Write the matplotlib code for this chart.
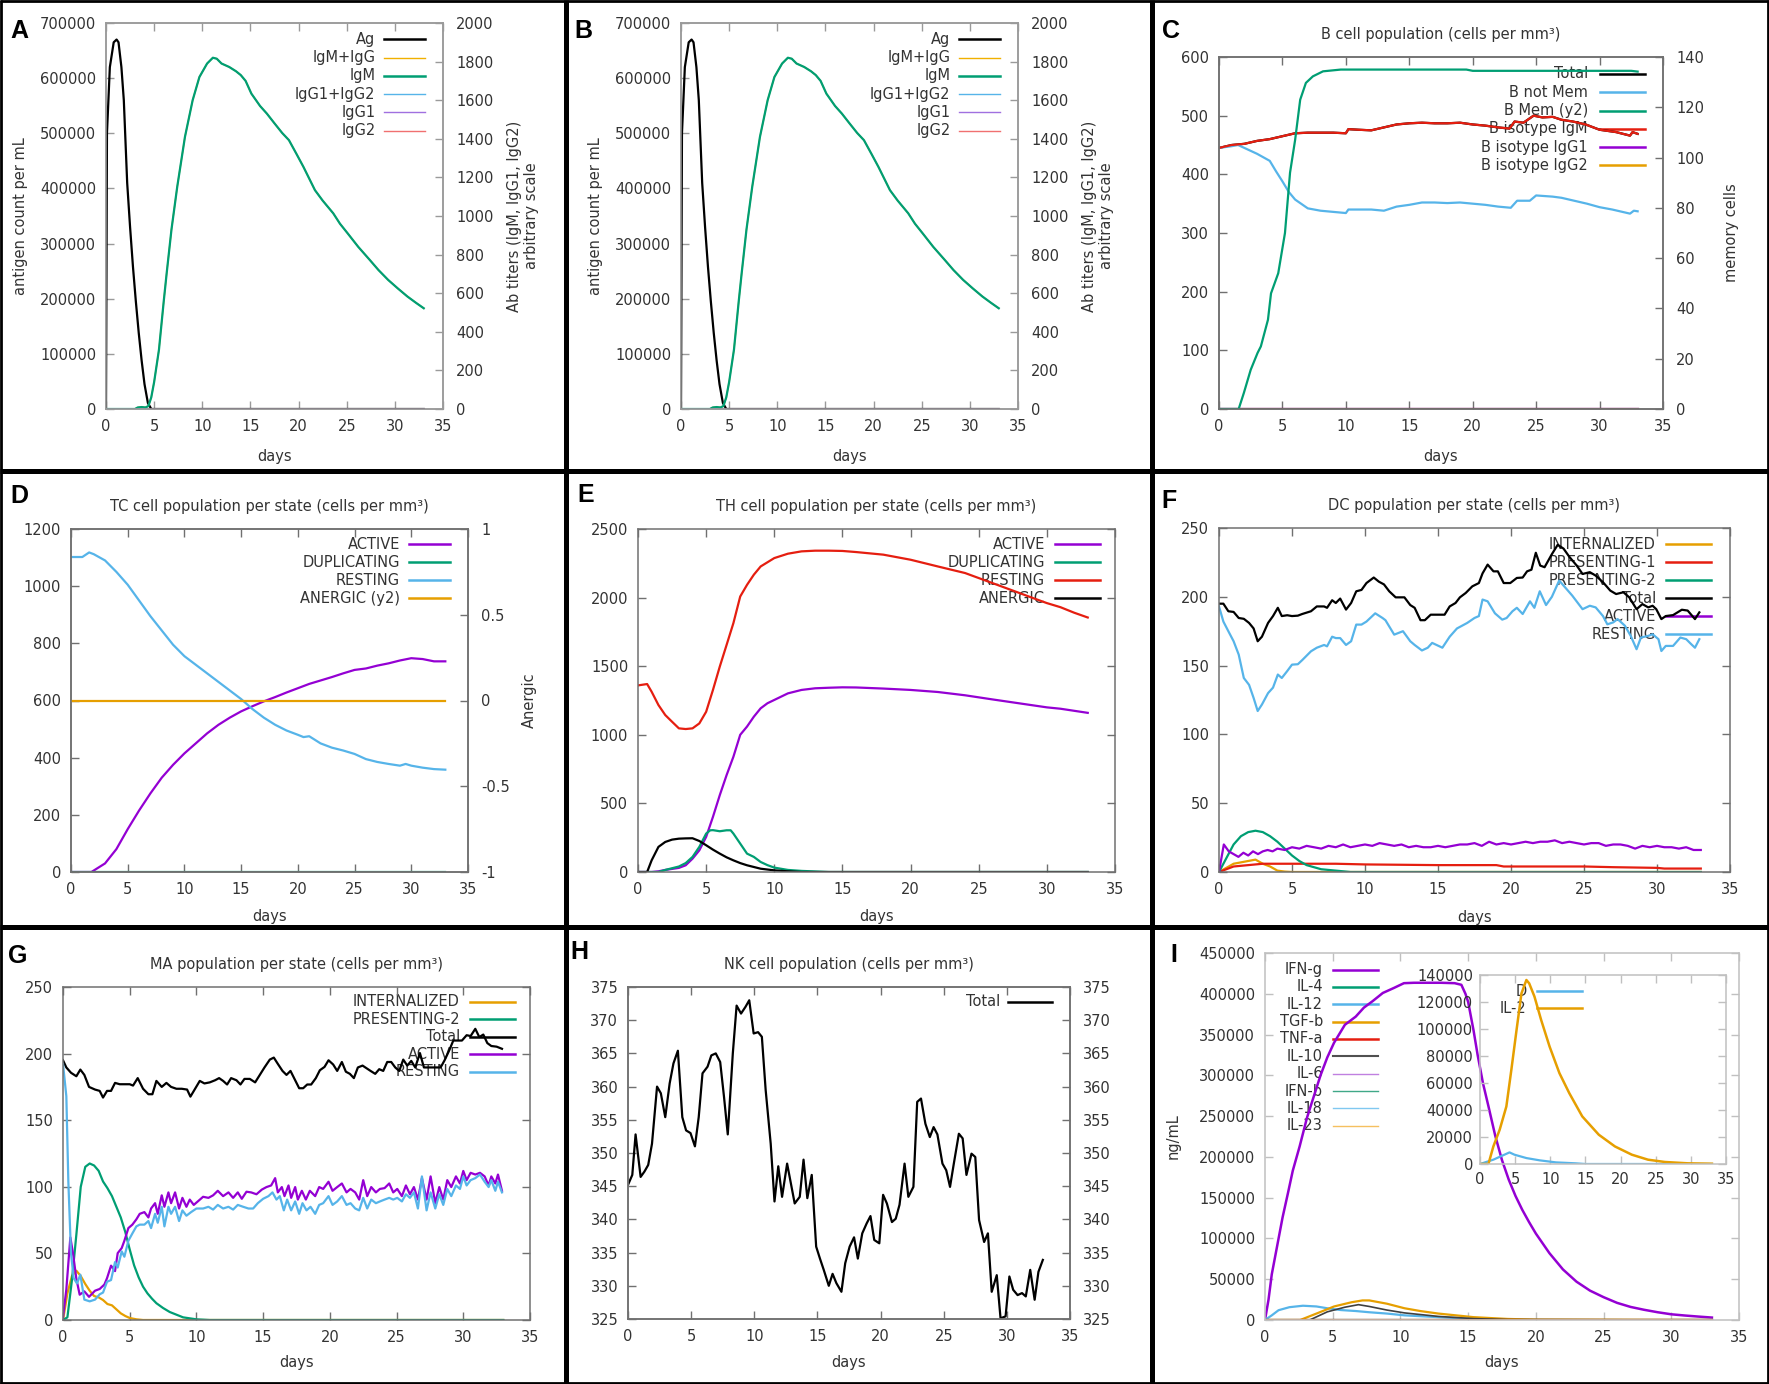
import matplotlib
matplotlib.use('Agg')
import matplotlib.pyplot as plt
from matplotlib.lines import Line2D

plt.rcParams['font.family'] = ['DejaVu Sans']

# ---------------- DATA ----------------
# Panels A / B : antigen and immunoglobulins
ag_days = [0, 0.1, 0.4, 0.8, 1.1, 1.3, 1.6, 1.85, 2.2, 2.5, 2.8, 3.1, 3.4, 3.7, 4.0, 4.35, 4.7, 33]
ag_vals = [0, 500000, 620000, 665000, 670000, 665000, 620000, 560000, 410000, 330000, 258000, 195000,
           138000, 88000, 45000, 11000, 0, 0]
igm_days = [0, 3.0, 3.3, 3.7, 4.1, 4.4, 4.7, 5.0, 5.5, 6.0, 6.3, 6.8, 7.4, 8.2, 9.0, 9.7, 10.5, 11.1, 11.5,
            12.0, 12.8, 13.5, 14.0, 14.5, 15.1, 16.0, 16.7, 17.5, 18.3, 19.0, 19.8, 20.5, 21.7, 22.5, 23.6,
            24.3, 25.1, 26.2, 27.4, 28.3, 29.3, 30.3, 31.3, 32.2, 33.0]
igm_vals = [0, 0, 8, 10, 8, 15, 60, 140, 307, 560, 703, 930, 1152, 1410, 1600, 1720, 1790, 1820, 1815,
            1790, 1772, 1750, 1730, 1700, 1634, 1570, 1531, 1480, 1430, 1393, 1320, 1255, 1134, 1080, 1014,
            960, 910, 840, 772, 720, 669, 625, 583, 550, 522]
igg_days = [0, 33]
igg_vals = [0, 0]

# Panel C : B cells
bm_days = [0, 1, 2, 3, 4, 5, 6, 7, 8, 9, 10, 10.2, 11, 12, 13, 14, 15, 16, 17, 18, 19, 20, 21, 22, 22.9,
           23.3, 24, 24.8, 25.5, 26.3, 27, 27.9, 28.9, 30, 31.3, 32.4, 32.6, 33]
b_igm = [445, 450, 452, 457, 460, 465, 470, 471, 471, 471, 470, 477, 476, 475, 480, 485, 487, 488, 487, 487,
         488, 485, 483, 480, 478, 490, 488, 500, 497, 498, 493, 490, 485, 476, 472, 466, 472, 469]
bn_days = [0, 1, 1.5, 2, 3, 4, 4.5, 5, 5.5, 6, 7, 8, 9, 10, 10.2, 11, 12, 13, 14, 15, 16, 17, 18, 19, 20,
           21, 22, 23, 23.5, 24.5, 25, 26.3, 27, 28, 29, 30, 31, 32.4, 32.7, 33]
b_notmem = [445, 448, 450, 445, 435, 423, 405, 388, 370, 357, 342, 338, 336, 334, 340, 340, 340, 338, 345,
            348, 352, 352, 351, 352, 350, 348, 345, 343, 355, 355, 364, 362, 360, 355, 350, 344, 340, 333,
            338, 337]
bmem_days = [0, 1.55, 1.96, 2.5, 3.04, 3.3, 3.86, 4.1, 4.67, 5.2, 5.6, 6.0, 6.4, 6.85, 7.4, 8.2, 9.6,
             19.5, 20, 32.5, 33]
b_mem = [0, 0, 6.4, 15.6, 22.3, 24.9, 35.5, 46, 54, 70, 94, 107, 123, 129.7, 132.3, 134.3, 135, 135,
         134.5, 134.5, 134.2]

# Panel D : TC cells
tcr_days = [0, 1, 1.6, 2, 3, 4, 5, 6, 7, 8, 9, 10, 11, 12, 13, 14, 15, 16, 17, 18, 19, 20, 20.5, 21, 22,
            23, 24, 25, 26, 27, 28, 29, 29.5, 30, 31, 32, 33]
tc_resting = [1102, 1102, 1118, 1112, 1090, 1050, 1005, 950, 895, 845, 795, 755, 725, 695, 665, 635, 605,
              570, 540, 515, 495, 480, 472, 475, 450, 435, 425, 413, 395, 385, 378, 372, 378, 372, 365,
              360, 358]
tca_days = [0, 1.8, 2, 3, 4, 5, 6, 7, 8, 9, 10, 11, 12, 13, 14, 15, 16, 17, 18, 19, 20, 21, 22, 23, 24,
            25, 26, 27, 28, 29, 30, 31, 32, 33]
tc_active = [0, 0, 5, 30, 80, 150, 215, 275, 330, 375, 415, 450, 485, 515, 540, 562, 580, 597, 612, 628,
             643, 658, 670, 682, 695, 707, 712, 722, 730, 740, 748, 745, 737, 737]
tc_flat_days = [0, 33]
tc_dup = [0, 0]
tc_anergic = [0, 0]

# Panel E : TH cells
thr_days = [0, 0.67, 1, 1.5, 2, 2.5, 3, 3.5, 4, 4.5, 5, 5.5, 6, 6.5, 7, 7.5, 8, 8.5, 9, 10, 11, 12, 13,
            14, 15, 16, 18, 20, 22, 24, 26, 28, 29, 30, 31, 32, 33]
th_resting = [1360, 1370, 1314, 1217, 1144, 1095, 1047, 1042, 1047, 1083, 1168, 1327, 1497, 1655, 1814,
              2008, 2093, 2167, 2227, 2288, 2320, 2337, 2342, 2342, 2340, 2332, 2313, 2276, 2227, 2179,
              2106, 2033, 1996, 1960, 1930, 1890, 1855]
tha_days = [0, 1, 1.5, 2, 3, 3.5, 4, 4.5, 5, 5.5, 6, 6.5, 7, 7.5, 8, 8.5, 9, 9.5, 10, 11, 12, 13, 14, 15,
            16, 18, 20, 22, 24, 26, 28, 30, 31, 32, 33]
th_active = [0, 0, 5, 15, 30, 49, 97, 158, 256, 402, 560, 706, 840, 1000, 1060, 1132, 1193, 1230, 1254,
             1302, 1327, 1339, 1343, 1346, 1345, 1337, 1327, 1312, 1288, 1258, 1229, 1200, 1190, 1175, 1160]
thd_days = [0, 1.5, 2, 3, 3.5, 4, 4.5, 5, 5.3, 5.5, 6, 6.5, 6.8, 7, 7.5, 8, 8.5, 9, 9.5, 10, 11, 12, 13,
            14, 33]
th_dup = [0, 0, 15, 40, 65, 110, 183, 280, 304, 305, 297, 304, 304, 280, 207, 134, 110, 73, 50, 32, 15,
          8, 4, 0, 0]
thn_days = [0, 0.67, 1, 1.5, 2, 2.5, 3, 3.5, 4, 4.5, 5, 5.5, 6, 6.5, 7, 7.5, 8, 9, 10, 11, 12, 33]
th_anergic = [0, 0, 85, 183, 219, 236, 243, 245, 246, 226, 195, 163, 134, 107, 85, 65, 49, 24, 12, 5, 0, 0]

# Panel F : DC
dct_days = [0, 0.3, 0.64, 1.0, 1.35, 1.7, 2.06, 2.37, 2.65, 2.94, 3.36, 3.7, 4.03, 4.3, 4.67, 5.0, 5.4,
            5.7, 6.3, 6.7, 7.2, 7.4, 7.75, 8.0, 8.3, 8.7, 9.05, 9.4, 9.76, 10.1, 10.6, 10.95, 11.3, 11.66,
            12.1, 12.7, 13.1, 13.4, 13.8, 14.1, 14.5, 15, 15.45, 15.8, 16.2, 16.5, 16.9, 17.35, 17.8, 18.05,
            18.4, 18.8, 19.1, 19.5, 19.95, 20.4, 20.8, 21.1, 21.4, 21.7, 22.0, 22.3, 22.8, 23.2, 23.6, 24,
            24.5, 24.9, 25.4, 25.8, 26.3, 26.8, 27.2, 27.7, 28.1, 28.6, 29, 29.4, 29.7, 29.95, 30.3, 30.6,
            31.1, 31.7, 32.1, 32.6, 32.9]
dc_total = [195, 195, 189.5, 189, 184.6, 184, 181, 177, 167.7, 171, 181, 186, 192, 186, 186.6, 186, 186.3,
            187.5, 189.5, 193, 193, 192, 197.5, 195.5, 198.7, 190.7, 195.5, 204, 205, 210, 214, 211, 209,
            204, 199.6, 199.6, 194, 192, 183, 183, 187, 187, 187, 193, 195.5, 199.6, 202.8, 207.6, 210, 217,
            223.4, 218.5, 218.5, 210, 210, 213.7, 214, 218.5, 219.7, 232, 222.7, 221.5, 231, 237.8, 235,
            229, 222.7, 216.6, 217.9, 215.4, 210.6, 204.5, 202, 203.3, 199.6, 191, 194.7, 192.3, 193.5, 191,
            183.8, 186, 186.7, 190.6, 190, 183.8, 188.7]
dcr_days = [0, 0.3, 0.64, 1.0, 1.35, 1.7, 2.06, 2.37, 2.65, 2.94, 3.36, 3.7, 4.03, 4.3, 4.67, 5.0, 5.4,
            5.7, 6.3, 6.7, 7.2, 7.4, 7.75, 8.0, 8.3, 8.7, 9.05, 9.4, 9.76, 10.1, 10.7, 11.2, 11.4, 12, 12.6,
            13.1, 13.4, 13.9, 14.3, 14.6, 15.3, 15.8, 16.3, 17, 17.5, 17.8, 18.05, 18.4, 18.9, 19.4, 19.7,
            20.1, 20.4, 20.8, 21.3, 21.6, 21.97, 22.4, 22.8, 23.3, 23.8, 24.2, 24.9, 25.4, 25.8, 26.3, 26.6,
            27, 27.3, 27.8, 28.2, 28.6, 28.9, 29.4, 29.7, 30.1, 30.3, 30.6, 31.1, 31.6, 32, 32.35, 32.6, 32.9]
dc_resting = [193, 182, 175, 167.7, 158, 141, 136, 126.5, 117, 121.7, 130, 134, 143.5, 141, 146, 150.7,
              151, 154, 160.4, 163, 165, 164, 171, 170, 170, 165, 167.7, 179.8, 179.8, 182, 188, 184.6,
              183, 172.5, 175, 167.7, 165, 161, 163, 166.5, 163, 171, 177, 181, 184.6, 186, 198, 196.7, 188,
              183.4, 184.6, 189.5, 192, 187.5, 196.7, 192, 204, 194, 200, 211.8, 205.7, 200.8, 191, 193.5,
              192.3, 186, 180, 181.4, 183.8, 179, 171.6, 161.9, 170.4, 171.6, 172.8, 169.2, 160.6, 164.3,
              164.3, 170.4, 169.2, 165.5, 163, 169.2]
dca_days = [0, 0.33, 0.67, 1, 1.33, 1.67, 2, 2.33, 2.67, 3, 3.33, 3.67, 4, 4.5, 5, 5.5, 6, 6.5, 7, 7.5, 8,
            8.5, 9, 9.5, 10, 10.5, 11, 11.5, 12, 12.5, 13, 13.5, 14, 14.5, 15, 15.5, 16, 16.5, 17, 17.5, 18,
            18.5, 19, 19.5, 20, 20.5, 21, 21.5, 22, 22.5, 23, 23.5, 24, 24.5, 25, 25.5, 26, 26.5, 27, 27.5,
            28, 28.5, 29, 29.5, 30, 30.5, 31, 31.5, 32, 32.5, 33]
dc_active = [0, 20, 15, 13, 11, 14, 12, 15, 13, 15, 16, 15, 17, 16, 18, 17, 19, 18, 17, 19, 18, 20, 18,
             19, 20, 19, 21, 20, 19, 20, 18, 19, 18, 18, 19, 18, 19, 20, 20, 21, 19, 22, 20, 21, 20, 21, 22,
             21, 22, 22, 23, 21, 22, 21, 20, 21, 21, 19, 20, 20, 19, 17, 19, 18, 19, 18, 18, 17, 18, 16, 16]
dcp2_days = [0, 0.5, 1, 1.5, 2, 2.5, 3, 3.5, 4, 4.5, 5, 5.5, 6, 7, 8, 9, 33]
dc_pres2 = [0, 10, 20, 26, 29, 30, 29, 26, 22, 17, 12, 8, 5, 2, 1, 0, 0]
dcp1_days = [0, 0.5, 1, 2, 3, 5, 8, 10, 15, 19, 19.5, 25, 27, 30, 30.5, 33]
dc_pres1 = [0, 2, 4, 5, 6, 6, 6, 5.5, 5, 5, 4, 4, 3.5, 3, 2.5, 2.5]
dci_days = [0, 0.5, 1, 1.5, 2, 2.5, 3, 3.5, 4, 4.5, 5, 33]
dc_intern = [0, 3, 6, 7, 8, 9, 6, 4, 1, 0.3, 0, 0]

# Panel G : macrophages
mat_days = [0, 0.25, 0.6, 1.0, 1.3, 1.6, 1.95, 2.4, 2.75, 3.0, 3.3, 3.6, 3.9, 4.25, 4.6, 5.0, 5.25, 5.6,
            6.0, 6.4, 6.7, 7.0, 7.4, 7.75, 8.1, 8.5, 8.9, 9.3, 9.55, 9.9, 10.25, 10.6, 11, 11.4, 11.7, 12,
            12.3, 12.6, 13, 13.3, 13.6, 14, 14.4, 14.75, 15.1, 15.5, 15.8, 16.1, 16.45, 16.75, 17.05, 17.4,
            17.7, 18, 18.3, 18.6, 18.95, 19.25, 19.6, 19.9, 20.25, 20.55, 20.9, 21.2, 21.5, 21.8, 22.1,
            22.45, 22.75, 23.05, 23.4, 23.7, 24, 24.3, 24.6, 24.9, 25.2, 25.5, 25.8, 26.1, 26.4, 26.75,
            27.05, 27.4, 27.7, 28, 28.3, 28.6, 28.95, 29.25, 29.55, 29.9, 30.25, 30.55, 30.9, 31.2, 31.5,
            31.8, 32.1, 32.5, 32.9]
ma_total = [195, 189.6, 185.6, 183, 188, 184, 175, 173, 172, 167, 172, 172, 178, 177, 177, 177, 176, 181.6,
            173.6, 169.5, 169.5, 179.5, 175, 178, 175, 173.6, 173.6, 173, 167.7, 173.6, 179.5, 177.6, 178.4,
            180, 181.6, 179.5, 176.8, 181.6, 180, 176.8, 181, 181, 178.4, 184, 189.6, 195.5, 197, 192.3,
            187, 184, 187, 180, 174, 174, 176.8, 176.8, 181.6, 187.5, 190, 195, 191.8, 187, 193.7, 186.4,
            184.8, 181.6, 189.6, 191, 189, 187, 184.8, 188.3, 187, 193.7, 193.7, 189.6, 187, 195.5, 191,
            194.5, 189.6, 200.4, 189.6, 189.6, 189.6, 189.6, 189.6, 195, 202.5, 209.8, 209.8, 209.8, 213.8,
            213.2, 218.6, 212.4, 214.3, 207.9, 205.7, 205.2, 203.6]
maa_days = [0, 0.25, 0.55, 0.75, 1.0, 1.25, 1.6, 1.95, 2.4, 2.75, 3.1, 3.3, 3.6, 3.9, 4.1, 4.4, 4.6, 4.9,
            5.2, 5.5, 5.75, 6.1, 6.4, 6.6, 6.9, 7.1, 7.4, 7.6, 7.9, 8.1, 8.4, 8.7, 8.95, 9.25, 9.5, 9.8,
            10.1, 10.5, 10.9, 11.25, 11.6, 12, 12.4, 12.75, 13.1, 13.4, 13.75, 14.1, 14.5, 14.9, 15.25,
            15.6, 15.9, 16.1, 16.4, 16.6, 16.9, 17.1, 17.4, 17.6, 17.9, 18.2, 18.5, 18.9, 19.2, 19.5, 19.9,
            20.2, 20.55, 20.9, 21.25, 21.55, 21.9, 22.2, 22.5, 22.8, 23.1, 23.45, 23.75, 24.1, 24.45, 24.75,
            25.05, 25.4, 25.7, 26, 26.3, 26.6, 26.9, 27.25, 27.55, 27.9, 28.2, 28.5, 28.8, 29.1, 29.45,
            29.75, 30, 30.25, 30.55, 30.9, 31.25, 31.6, 31.9, 32.1, 32.4, 32.6, 32.9]
ma_active = [2, 23, 62, 50, 31, 19, 21.5, 17.4, 22, 23.3, 26.6, 31.4, 40.8, 36.7, 50.2, 54, 59.5, 69, 71.6,
             75.6, 79.7, 81, 77, 83.7, 87.7, 79.7, 93.6, 85, 95.8, 87.7, 95.8, 83.7, 91.7, 85, 90.4, 86.4,
             89, 92.5, 91.7, 93.6, 97, 93, 95.8, 91.7, 95.8, 91, 96.3, 95.8, 94.4, 97.9, 99.8, 101, 106.5,
             95.8, 99.8, 93, 101, 91.7, 99.8, 90.4, 97, 90.4, 97, 93, 99.8, 98.4, 103.8, 97, 99.8, 102.5,
             95.8, 98.4, 95.8, 90.4, 105, 93, 99.8, 95.8, 98.4, 99, 102.5, 95.8, 98.4, 93, 101, 94.4, 99.8,
             90.4, 106.5, 90.4, 107.8, 87.7, 99.8, 90.4, 105, 99.8, 107.8, 102.5, 111.9, 105, 110.5, 109.2,
             110.5, 107.8, 101, 107.8, 102.5, 109.2, 97]
mar_days = [0, 0.25, 0.4, 0.6, 0.8, 1.05, 1.3, 1.6, 2.0, 2.4, 2.75, 3.0, 3.3, 3.6, 3.9, 4.1, 4.4, 4.6, 4.9,
            5.2, 5.5, 5.75, 6.1, 6.4, 6.6, 6.9, 7.1, 7.4, 7.6, 7.9, 8.1, 8.4, 8.7, 8.95, 9.25, 9.6, 10,
            10.5, 10.9, 11.25, 11.6, 12, 12.4, 12.75, 13.1, 13.5, 13.9, 14.25, 14.6, 15, 15.4, 15.7, 16,
            16.25, 16.55, 16.8, 17.1, 17.4, 17.7, 17.95, 18.25, 18.55, 18.9, 19.2, 19.5, 19.9, 20.2, 20.55,
            20.9, 21.25, 21.55, 21.9, 22.2, 22.5, 22.8, 23.1, 23.45, 23.75, 24.1, 24.45, 24.75, 25.05, 25.4,
            25.7, 26, 26.3, 26.6, 26.9, 27.25, 27.55, 27.9, 28.2, 28.5, 28.8, 29.1, 29.45, 29.75, 30, 30.25,
            30.55, 30.9, 31.25, 31.6, 31.9, 32.1, 32.4, 32.6, 32.9]
ma_resting = [192.3, 168, 104, 50, 31.4, 27.4, 34, 15.3, 14, 15.3, 19.3, 20.6, 28.7, 30, 43.5, 39.4, 51.5,
              47.5, 59.5, 65, 70.3, 71.6, 71.6, 74.3, 69, 79.7, 73, 85, 70.3, 85, 79.7, 85, 74.3, 82.3,
              78.3, 81, 83.7, 83.7, 85, 82.9, 86.4, 83.7, 85, 82.9, 86.4, 85, 83.7, 83.7, 87.7, 91, 93,
              95.8, 90.4, 93, 82.3, 90.4, 82.3, 89, 79.7, 87.7, 82.3, 85, 79.7, 86.4, 87.7, 93, 86.4, 89,
              93, 86.4, 87.7, 83.7, 82.3, 91.7, 83.7, 90.4, 87.7, 89, 90.4, 91.7, 90.4, 91.7, 89, 94.4,
              91.7, 95.8, 83.7, 107.8, 82.3, 95.8, 83.7, 94.4, 86.4, 98.4, 93, 101, 98.4, 107.8, 101, 105,
              106.5, 109.2, 103.8, 99.8, 105, 97, 103.8, 95.8]
map2_days = [0, 0.33, 0.67, 1.0, 1.33, 1.67, 2.0, 2.33, 2.67, 3.0, 3.33, 3.67, 4.0, 4.33, 4.67, 5.0, 5.33,
             5.67, 6.0, 6.33, 6.67, 7.0, 7.5, 8.0, 8.5, 9, 10, 11, 33]
ma_pres2 = [0, 2, 30, 64, 100, 115, 117.5, 116, 112, 104, 99, 93, 85, 77, 66, 53, 41, 32, 25, 20, 16, 12.6,
            9, 6, 4, 2, 0.5, 0, 0]
mai_days = [0, 0.33, 0.67, 1.0, 1.33, 1.67, 2.0, 2.33, 2.67, 3.0, 3.33, 3.67, 4.0, 4.33, 4.67, 5.0, 5.5, 6,
            33]
ma_intern = [0, 20, 33, 37, 33, 27, 22, 18, 17, 15, 12, 11, 8, 5, 3, 1.5, 0.5, 0, 0]

# Panel H : NK cells
nk_days = [0, 0.34, 0.6, 1.0, 1.3, 1.6, 1.9, 2.3, 2.6, 2.95, 3.3, 3.6, 3.95, 4.3, 4.6, 4.95, 5.3, 5.6, 5.9,
           6.3, 6.6, 6.95, 7.3, 7.6, 7.9, 8.3, 8.6, 8.95, 9.3, 9.6, 9.95, 10.3, 10.6, 10.9, 11.3, 11.6,
           11.9, 12.2, 12.6, 12.9, 13.2, 13.6, 13.9, 14.2, 14.55, 14.9, 15.2, 15.5, 15.9, 16.2, 16.5, 16.9,
           17.2, 17.55, 17.9, 18.2, 18.55, 18.9, 19.2, 19.5, 19.9, 20.2, 20.5, 20.9, 21.2, 21.5, 21.9,
           22.2, 22.6, 22.9, 23.2, 23.55, 23.9, 24.2, 24.5, 24.9, 25.2, 25.5, 25.8, 26.2, 26.5, 26.8, 27.2,
           27.5, 27.8, 28.2, 28.5, 28.8, 29.2, 29.5, 29.9, 30.2, 30.5, 30.85, 31.2, 31.5, 31.85, 32.2, 32.5,
           32.85]
nk_total = [345.2, 346.7, 352.8, 346.4, 347.2, 348.2, 351.4, 360, 359, 355.4, 360.5, 363.5, 365.4, 355.4,
            353.4, 353, 351, 355.4, 362, 363, 364.7, 365, 363.7, 358.5, 352.8, 365, 372.2, 371, 372, 373,
            368, 368.2, 367.5, 359.5, 351.4, 342.7, 348, 343.4, 348.4, 345.4, 342.4, 343.4, 349, 343.2,
            346.7, 335.9, 334.1, 332.4, 330, 331.8, 330.4, 329.1, 333.4, 335.9, 337.3, 334.1, 337.9, 339.4,
            340.5, 336.9, 336.4, 343.7, 342.4, 339.6, 340.1, 342.2, 348.4, 343.4, 344.9, 357.7, 358.2, 354.4,
            352.4, 353.9, 352.8, 348.4, 347.4, 344.9, 348.4, 352.9, 352.2, 346.7, 349.9, 349.4, 339.9, 336.6,
            337.9, 329.1, 331.6, 325.1, 325.4, 331.4, 329.4, 328.6, 328.9, 328.4, 332.4, 327.9, 332.1, 333.9]

# Panel I : cytokines
ifng_days = [0, 0.26, 0.5, 0.9, 1.3, 1.7, 2.05, 2.56, 3.1, 3.6, 4.1, 4.6, 5.1, 5.9, 6.7, 7.3, 7.95, 8.7, 9.5,
             10.26, 11, 12, 13, 14, 14.5, 14.8, 15, 15.4, 15.7, 16.1, 16.5, 17, 17.5, 18, 18.5, 19, 19.5, 20,
             21, 22, 23, 24, 25, 26, 27, 28, 29, 30, 31, 32, 33]
ifng = [0, 25000, 56000, 91000, 126000, 156000, 183000, 213000, 248000, 274000, 300000, 322000, 340000,
        362000, 372000, 383000, 391000, 401000, 407000, 413000, 413500, 413500, 413500, 413000, 411000,
        400000, 390000, 355000, 325000, 290000, 262000, 226000, 196000, 172000, 152000, 135000, 120000,
        106000, 82000, 62000, 47000, 36000, 28000, 21000, 16000, 12500, 9500, 7000, 5500, 4200, 3000]
il12_days = [0, 0.5, 1, 1.8, 2.8, 3.8, 4.6, 5.6, 6.7, 7.7, 9, 10.3, 12.8, 15.4, 17, 20, 33]
il12 = [0, 5700, 12000, 15700, 17500, 16600, 14400, 12200, 11000, 9500, 7900, 5700, 3500, 1300, 500, 0, 0]
tgfb_days = [0, 2.6, 3.8, 5.1, 6.4, 7.2, 7.7, 9, 10.3, 11.5, 12.8, 14.1, 15.4, 17.9, 20, 33]
tgfb = [0, 0, 7900, 16600, 21800, 24000, 24000, 20000, 14400, 10900, 7900, 5700, 3500, 1300, 500, 0]
il10_days = [0, 3.3, 4.6, 5.9, 6.9, 7.7, 9, 10.3, 12.8, 15.4, 18, 33]
il10 = [0, 0, 10000, 15700, 18800, 16600, 12200, 8700, 4400, 1700, 500, 0]
flat_days = [0, 33]
il4 = [0, 0]
tnfa = [0, 0]
il6 = [0, 0]
ifnb = [0, 0]
il18 = [0, 0]
il23 = [0, 0]
il2_days = [0, 1.2, 1.9, 2.8, 3.75, 4.46, 5.2, 5.9, 6.6, 7.0, 7.75, 8.7, 9.9, 11.3, 12.7, 14.55, 16.9, 19.2,
            21.6, 23.9, 26.3, 29.6, 32.6, 33]
il2 = [0, 0, 13000, 25400, 42600, 69750, 99300, 126400, 136300, 133800, 124000, 106700, 87000, 67300,
       52500, 35250, 21700, 13000, 6900, 3200, 1500, 500, 250, 200]
dsig_days = [0, 1.9, 4.2, 4.9, 6.6, 8.5, 10.8, 13.6, 15, 33]
dsig = [0, 3200, 8600, 6900, 4400, 2700, 1200, 500, 0, 0]

# tick values
day_ticks = [0, 5, 10, 15, 20, 25, 30, 35]

# ---------------- STYLE ----------------
W, H = 1769, 1384
fig = plt.figure(figsize=(W / 100, H / 100), dpi=100)
fig.patch.set_facecolor('white')
TXT = '#333333'
FS = 10.5
PURPLE = '#9400d3'
GREEN = '#009e73'
SKY = '#56b4e9'
ORANGE = '#e69f00'
RED = '#e51e10'
BLACK = '#000000'
LW = 1.6


def rect(l, r, t, b):
    return [l / W, 1 - b / H, (r - l) / W, (b - t) / H]


def fmt(v):
    return '%g' % v


def setup(ax, ylim, yticks, frame='#707070', mirror=True, ylim_x=(0, 35)):
    ax.set_xlim(*ylim_x)
    ax.set_ylim(*ylim)
    ax.set_xticks(day_ticks)
    ax.set_xticklabels([fmt(v) for v in day_ticks])
    ax.set_yticks(yticks)
    ax.set_yticklabels([fmt(v) for v in yticks])
    ax.tick_params(axis='both', direction='in', length=6, width=1.0, color=frame,
                   labelcolor=TXT, labelsize=FS, top=True, right=mirror, labelright=False)
    ax.tick_params(axis='x', pad=7)
    ax.tick_params(axis='y', pad=7)
    for s in ax.spines.values():
        s.set_color(frame)
        s.set_linewidth(1.1)


def twin(ax, ylim, yticks, frame='#707070'):
    a2 = ax.twinx()
    a2.set_ylim(*ylim)
    a2.set_yticks(yticks)
    a2.set_yticklabels([fmt(v) for v in yticks])
    a2.tick_params(axis='y', direction='in', length=6, width=1.0, color=frame,
                   labelcolor=TXT, labelsize=FS, pad=9.5)
    for s in a2.spines.values():
        s.set_color(frame)
        s.set_linewidth(1.1)
    return a2


def legend(ax, entries, xt, x0, x1, y0, dy):
    for i, (lab, col, lw) in enumerate(entries):
        y = 1 - (y0 + i * dy)
        ax.text(xt, y, lab, transform=ax.transAxes, ha='right', va='center',
                fontsize=FS, color=TXT, zorder=1)
        ax.add_line(Line2D([x0, x1], [y, y], transform=ax.transAxes, color=col,
                           lw=lw, zorder=1.5, clip_on=False))


def title(ax, t):
    ax.set_title(t, fontsize=FS, color=TXT, pad=13)


def xlabel(ax, yfrac):
    ax.set_xlabel('days', fontsize=FS, color=TXT, va='center')
    ax.xaxis.set_label_coords(0.5, yfrac)


def ylabel(ax, text, xfrac):
    ax.set_ylabel(text, fontsize=FS, color=TXT, va='center', ha='center',
                  multialignment='center')
    ax.yaxis.set_label_coords(xfrac, 0.5)


def letter(x, y, t):
    fig.text(x / W, 1 - y / H, t, fontsize=18, fontweight='bold',
             family='Liberation Sans', ha='left', va='top')


# ---------------- A & B ----------------
for (l, r), letter_x, let in [((106, 443), 10, 'A'), ((681, 1018), 574, 'B')]:
    ax = fig.add_axes(rect(l, r, 23, 409))
    setup(ax, (0, 700000), [0, 100000, 200000, 300000, 400000, 500000, 600000, 700000],
          frame='#9a9a9a', mirror=False)
    ax2 = twin(ax, (0, 2000), [0, 200, 400, 600, 800, 1000, 1200, 1400, 1600, 1800, 2000],
               frame='#9a9a9a')
    ax.plot(ag_days, ag_vals, color=BLACK, lw=LW, zorder=3)
    ax2.plot(igm_days, igm_vals, color='#f0b000', lw=1.0)
    ax2.plot(igm_days, igm_vals, color=GREEN, lw=LW)
    ax2.plot(igg_days, igg_vals, color=SKY, lw=1.0)
    ax2.plot(igg_days, igg_vals, color='#a070e0', lw=1.0)
    ax2.plot(igg_days, igg_vals, color='#e06070', lw=1.0)
    legend(ax, [('Ag', BLACK, 1.8), ('IgM+IgG', '#f0b000', 1.0), ('IgM', GREEN, 1.8),
                ('IgG1+IgG2', SKY, 1.0), ('IgG1', '#a070e0', 1.0), ('IgG2', '#f07070', 1.0)],
           0.80, 0.826, 0.948, 0.042, 0.0474)
    xlabel(ax, -0.124)
    ylabel(ax, 'antigen count per mL', -0.255)
    ylabel(ax2, 'Ab titers (IgM, IgG1, IgG2)\narbitrary scale', 1.237)
    letter(letter_x, 19, let)

# ---------------- C ----------------
ax = fig.add_axes(rect(1219, 1663, 57, 409))
setup(ax, (0, 600), [0, 100, 200, 300, 400, 500, 600], mirror=False)
ax2 = twin(ax, (0, 140), [0, 20, 40, 60, 80, 100, 120, 140])
ax.plot(bm_days, b_igm, color=BLACK, lw=LW)
ax.plot(bn_days, b_notmem, color=SKY, lw=LW)
ax.plot(bm_days, b_igm, color=RED, lw=LW)
ax.plot(igg_days, igg_vals, color=PURPLE, lw=LW)
ax.plot(igg_days, igg_vals, color='#8b3a20', lw=LW)
ax2.plot(bmem_days, b_mem, color=GREEN, lw=LW)
legend(ax, [('Total', BLACK, 1.8), ('B not Mem', SKY, 1.8), ('B Mem (y2)', GREEN, 1.8),
            ('B isotype IgM', RED, 1.8), ('B isotype IgG1', PURPLE, 1.8), ('B isotype IgG2', ORANGE, 1.8)],
       0.831, 0.858, 0.96, 0.048, 0.052)
title(ax, 'B cell population (cells per mm³)')
xlabel(ax, -0.134)
ylabel(ax2, 'memory cells', 1.155)
letter(1162, 19, 'C')

# ---------------- D ----------------
ax = fig.add_axes(rect(71, 468, 529, 872))
setup(ax, (0, 1200), [0, 200, 400, 600, 800, 1000, 1200], mirror=False)
ax2 = twin(ax, (-1, 1), [-1, -0.5, 0, 0.5, 1])
ax.plot(tca_days, tc_active, color=PURPLE, lw=LW)
ax.plot(tc_flat_days, tc_dup, color=GREEN, lw=LW)
ax.plot(tcr_days, tc_resting, color=SKY, lw=LW)
ax2.plot(tc_flat_days, tc_anergic, color=ORANGE, lw=LW)
legend(ax, [('ACTIVE', PURPLE, 1.8), ('DUPLICATING', GREEN, 1.8), ('RESTING', SKY, 1.8),
            ('ANERGIC (y2)', ORANGE, 1.8)], 0.829, 0.851, 0.955, 0.044, 0.0528)
title(ax, 'TC cell population per state (cells per mm³)')
xlabel(ax, -0.131)
ylabel(ax2, 'Anergic', 1.154)
letter(10, 484, 'D')

# ---------------- E ----------------
ax = fig.add_axes(rect(638, 1115, 529, 872))
setup(ax, (0, 2500), [0, 500, 1000, 1500, 2000, 2500])
ax.plot(tha_days, th_active, color=PURPLE, lw=LW)
ax.plot(thd_days, th_dup, color=GREEN, lw=LW)
ax.plot(thr_days, th_resting, color=RED, lw=LW)
ax.plot(thn_days, th_anergic, color=BLACK, lw=LW)
legend(ax, [('ACTIVE', PURPLE, 1.8), ('DUPLICATING', GREEN, 1.8), ('RESTING', RED, 1.8),
            ('ANERGIC', BLACK, 1.8)], 0.853, 0.874, 0.968, 0.044, 0.0528)
title(ax, 'TH cell population per state (cells per mm³)')
xlabel(ax, -0.131)
letter(577, 483, 'E')

# ---------------- F ----------------
ax = fig.add_axes(rect(1219, 1730, 528, 872))
setup(ax, (0, 250), [0, 50, 100, 150, 200, 250])
ax.plot(dci_days, dc_intern, color=ORANGE, lw=LW)
ax.plot(dcp1_days, dc_pres1, color=RED, lw=LW)
ax.plot(dcp2_days, dc_pres2, color=GREEN, lw=LW)
ax.plot(dct_days, dc_total, color=BLACK, lw=LW)
ax.plot(dca_days, dc_active, color=PURPLE, lw=LW)
ax.plot(dcr_days, dc_resting, color=SKY, lw=LW)
legend(ax, [('INTERNALIZED', ORANGE, 1.8), ('PRESENTING-1', RED, 1.8), ('PRESENTING-2', GREEN, 1.8),
            ('Total', BLACK, 1.8), ('ACTIVE', PURPLE, 1.8), ('RESTING', SKY, 1.8)],
       0.855, 0.875, 0.963, 0.047, 0.0525)
title(ax, 'DC population per state (cells per mm³)')
xlabel(ax, -0.131)
letter(1161, 489, 'F')

# ---------------- G ----------------
ax = fig.add_axes(rect(63, 530, 987, 1320))
setup(ax, (0, 250), [0, 50, 100, 150, 200, 250])
ax.plot(mai_days, ma_intern, color=ORANGE, lw=LW)
ax.plot(map2_days, ma_pres2, color=GREEN, lw=LW)
ax.plot(mat_days, ma_total, color=BLACK, lw=LW)
ax.plot(maa_days, ma_active, color=PURPLE, lw=LW)
ax.plot(mar_days, ma_resting, color=SKY, lw=LW)
legend(ax, [('INTERNALIZED', ORANGE, 1.8), ('PRESENTING-2', GREEN, 1.8), ('Total', BLACK, 1.8),
            ('ACTIVE', PURPLE, 1.8), ('RESTING', SKY, 1.8)], 0.85, 0.871, 0.968, 0.045, 0.0525)
title(ax, 'MA population per state (cells per mm³)')
xlabel(ax, -0.129)
letter(8, 944, 'G')

# ---------------- H ----------------
ax = fig.add_axes(rect(628, 1070, 987, 1319))
nk_ticks = [325, 330, 335, 340, 345, 350, 355, 360, 365, 370, 375]
setup(ax, (325, 375), nk_ticks, mirror=False)
ax2 = twin(ax, (325, 375), nk_ticks)
ax.plot(nk_days, nk_total, color=BLACK, lw=LW)
legend(ax, [('Total', BLACK, 1.8)], 0.842, 0.86, 0.959, 0.045, 0.05)
title(ax, 'NK cell population (cells per mm³)')
xlabel(ax, -0.13)
letter(570, 940, 'H')

# ---------------- I ----------------
ax = fig.add_axes(rect(1265, 1739, 953, 1320))
setup(ax, (0, 450000), [0, 50000, 100000, 150000, 200000, 250000, 300000, 350000, 400000, 450000],
      frame='#c0c0c0')
ax.plot(ifng_days, ifng, color=PURPLE, lw=1.8)
ax.plot(flat_days, il4, color=GREEN, lw=LW)
ax.plot(il12_days, il12, color=SKY, lw=LW)
ax.plot(tgfb_days, tgfb, color=ORANGE, lw=LW)
ax.plot(flat_days, tnfa, color=RED, lw=LW)
ax.plot(il10_days, il10, color='#404040', lw=1.2)
ax.plot(flat_days, il6, color='#c080e0', lw=1.0)
ax.plot(flat_days, ifnb, color='#40a888', lw=1.0)
ax.plot(flat_days, il18, color='#80c8f0', lw=1.0)
ax.plot(flat_days, il23, color='#e07020', lw=1.2)
legend(ax, [('IFN-g', PURPLE, 1.8), ('IL-4', GREEN, 1.8), ('IL-12', SKY, 1.8), ('TGF-b', ORANGE, 1.8),
            ('TNF-a', RED, 1.8), ('IL-10', '#505050', 1.5), ('IL-6', '#c080e0', 1.0),
            ('IFN-b', '#40a888', 1.0), ('IL-18', '#80c8f0', 1.0), ('IL-23', '#f5c060', 1.0)],
       0.122, 0.143, 0.238, 0.045, 0.0473)
xlabel(ax, -0.117)
ylabel(ax, 'ng/mL', -0.194)
letter(1170, 943, 'I')

axi = fig.add_axes(rect(1480, 1726, 975, 1164))
axi.patch.set_visible(False)
setup(axi, (0, 140000), [0, 20000, 40000, 60000, 80000, 100000, 120000, 140000], frame='#c0c0c0')
axi.tick_params(axis='x', pad=6)
axi.tick_params(axis='y', pad=5)
axi.plot(dsig_days, dsig, color=SKY, lw=LW)
axi.plot(il2_days, il2, color=ORANGE, lw=1.8)
legend(axi, [('D', SKY, 1.8), ('IL-2', ORANGE, 1.8)], 0.19, 0.232, 0.415, 0.085, 0.09)

# ---------------- panel borders ----------------
def fline(x0, y0, x1, y1, lw):
    fig.add_artist(Line2D([x0 / W, x1 / W], [1 - y0 / H, 1 - y1 / H], transform=fig.transFigure,
                          color='black', lw=lw, solid_capstyle='butt'))

for x in (566, 1152):
    fline(x, 0, x, H, 3.6)
for y in (471, 927):
    fline(0, y, W, y, 3.6)
fline(1.2, 0, 1.2, H, 2.0)
fline(W - 1.2, 0, W - 1.2, H, 2.0)
fline(0, 1.2, W, 1.2, 2.0)
fline(0, H - 1.2, W, H - 1.2, 2.0)

fig.savefig('out.png', dpi=100)
